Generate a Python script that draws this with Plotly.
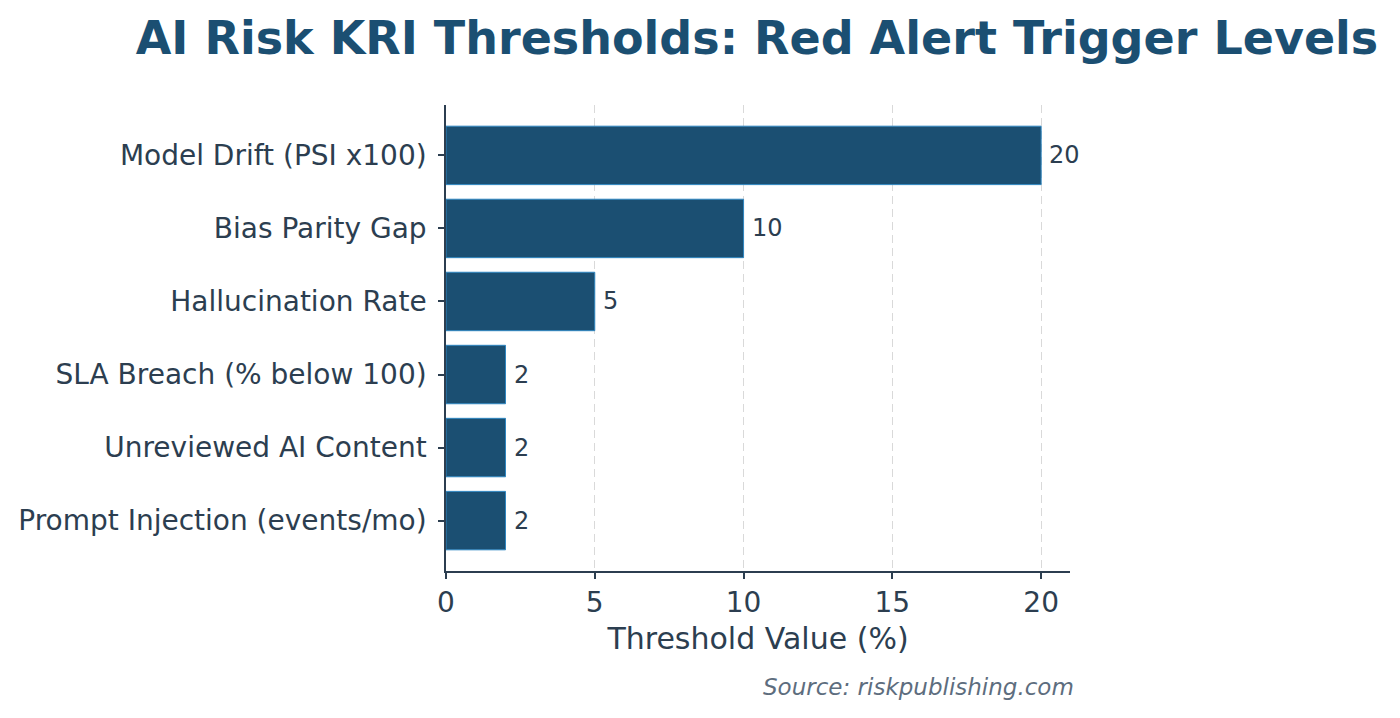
import plotly.graph_objects as go

categories = [
    "Model Drift (PSI x100)",
    "Bias Parity Gap",
    "Hallucination Rate",
    "SLA Breach (% below 100)",
    "Unreviewed AI Content",
    "Prompt Injection (events/mo)",
]
values = [20, 10, 5, 2, 2, 2]
x_ticks = [0, 5, 10, 15, 20]

TEXT = "#2c3e50"
BAR = "#1b4f72"
EDGE = "#2e86c1"

ypos = list(range(len(categories)))

fig = go.Figure()
fig.add_trace(go.Bar(
    x=values,
    y=ypos,
    orientation="h",
    width=0.8,
    marker=dict(color=BAR, line=dict(color=EDGE, width=1)),
    hoverinfo="skip",
))

for v, yp in zip(values, ypos):
    fig.add_annotation(
        x=v, y=yp, xref="x", yref="y",
        text=str(v), showarrow=False,
        xanchor="left", yanchor="middle", xshift=6,
        font=dict(family="DejaVu Sans", size=24, color=TEXT),
    )

fig.update_layout(
    width=1400, height=718,
    margin=dict(l=446, r=330, t=105, b=147, pad=0),
    paper_bgcolor="white", plot_bgcolor="white",
    showlegend=False,
    font=dict(family="DejaVu Sans", color=TEXT),
    title=dict(
        text="<b>AI Risk KRI Thresholds: Red Alert Trigger Levels</b>",
        font=dict(family="DejaVu Sans", size=46, color=BAR),
        x=757 / 1400, xanchor="center", xref="container",
        y=1 - 38 / 718, yanchor="middle", yref="container",
    ),
)

fig.update_xaxes(
    range=[0, 20.97],
    tickvals=x_ticks,
    ticktext=[str(t) for t in x_ticks],
    tickfont=dict(size=28, color=TEXT),
    ticks="outside", ticklen=6, tickwidth=1.5, tickcolor=TEXT,
    showline=True, linecolor=TEXT, linewidth=1.5,
    showgrid=True, gridcolor="#d9d9d9", griddash="8px,5px", gridwidth=1.3,
    zeroline=False,
    title=dict(text="Threshold Value (%)", font=dict(size=30, color=TEXT), standoff=10),
)
fig.update_yaxes(
    range=[len(categories) - 1 + 0.69, -0.69],
    tickvals=ypos,
    ticktext=categories,
    tickfont=dict(size=28, color=TEXT),
    ticks="outside", ticklen=6, tickwidth=1.5, tickcolor=TEXT,
    ticklabelstandoff=6,
    showline=True, linecolor=TEXT, linewidth=1.5,
    showgrid=False, zeroline=False,
)

fig.add_annotation(
    text="<i>Source: riskpublishing.com</i>",
    xref="paper", yref="paper",
    x=(1076 - 446) / (1070 - 446), y=-(687 - 571) / (571 - 105),
    xanchor="right", yanchor="middle", showarrow=False,
    font=dict(family="DejaVu Sans", size=23, color="#5d6d7e"),
)

fig.write_html("out.html")
